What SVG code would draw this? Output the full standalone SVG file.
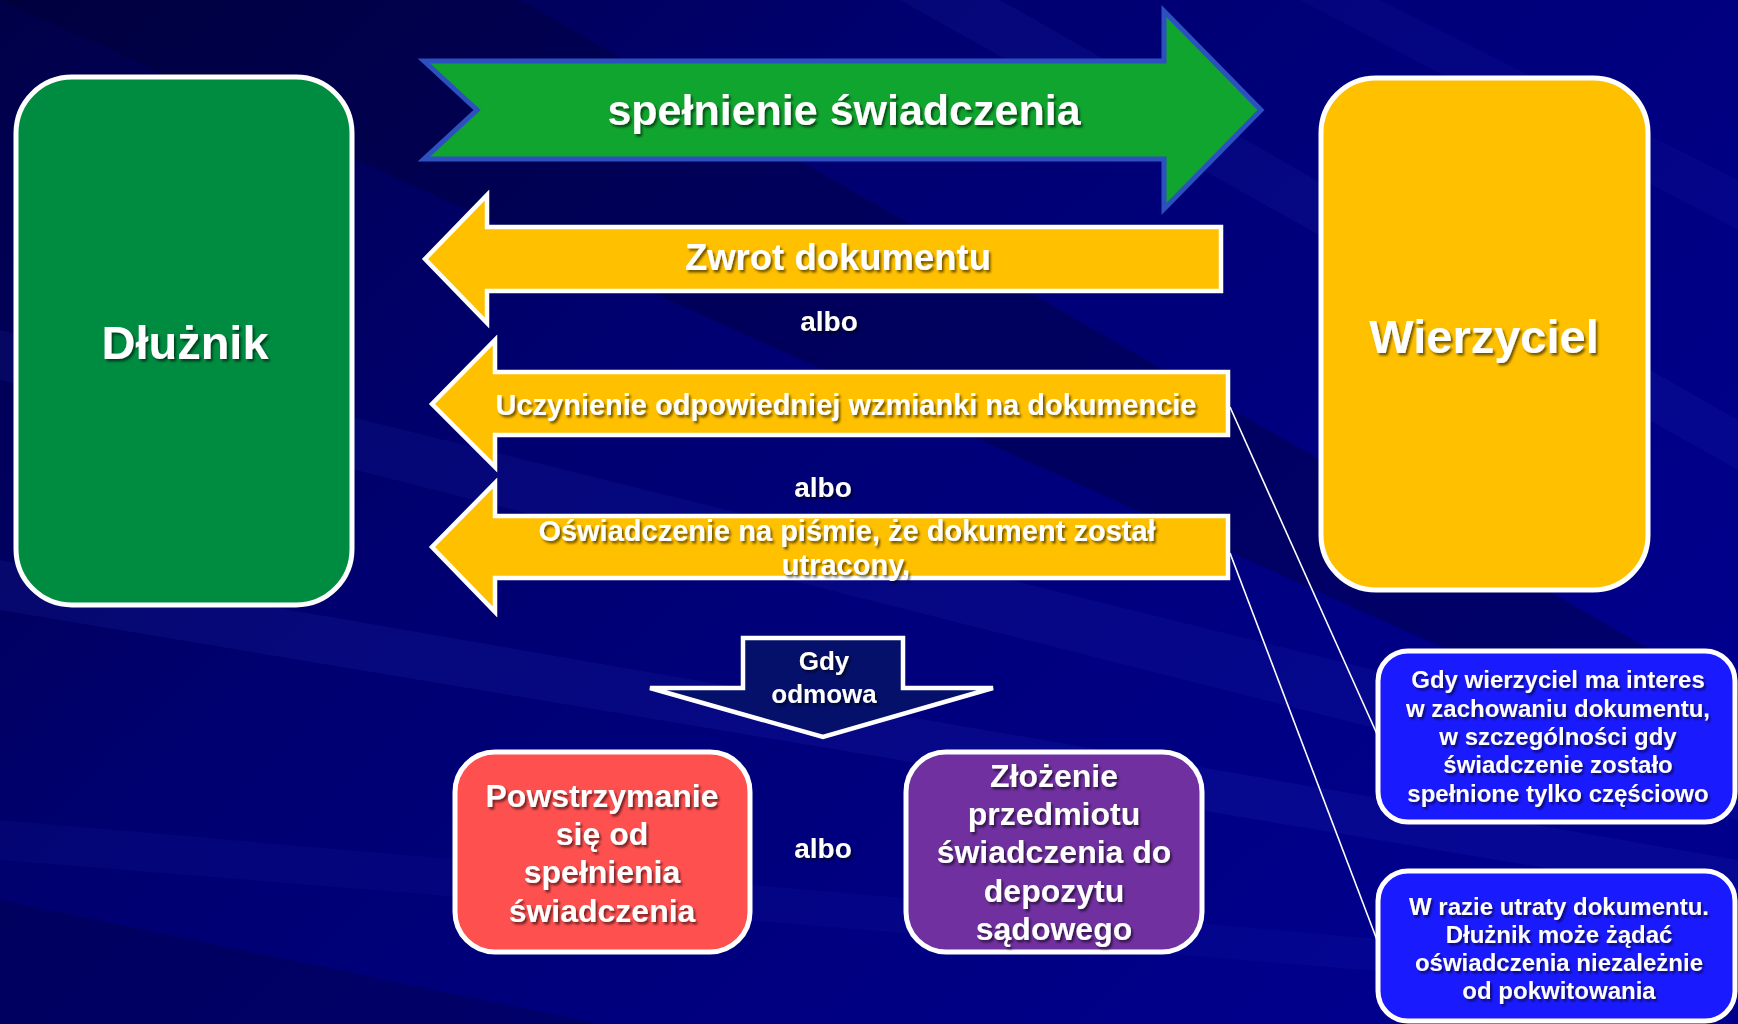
<svg xmlns="http://www.w3.org/2000/svg" width="1738" height="1024" viewBox="0 0 1738 1024">
<defs>
<linearGradient id="bg" x1="0" y1="0" x2="1" y2="0.6">
<stop offset="0" stop-color="#000048"/>
<stop offset="0.4" stop-color="#000070"/>
<stop offset="1" stop-color="#00008C"/>
</linearGradient>
<filter id="sh" x="-10%" y="-30%" width="120%" height="160%">
<feDropShadow dx="2" dy="2.5" stdDeviation="1.2" flood-color="#000000" flood-opacity="0.55"/>
</filter>
<style>
.t{font-family:"Liberation Sans",Arial,sans-serif;font-weight:bold;fill:#FFFFFF;text-anchor:middle;filter:url(#sh)}
.big{font-size:47px}
.box{stroke:#FFFFFF;stroke-width:5}
.yarrow{fill:#FFC000;stroke:#FFFFFF;stroke-width:4.5;stroke-linejoin:miter}
.note{fill:#1A1AFF;stroke:#FFFFFF;stroke-width:5}
.conn{stroke:#FFFFFF;stroke-width:1.6;fill:none}
.lite{fill:#3040D0}
.dark{fill:#000030}
</style>
</defs>
<rect x="0" y="0" width="1738" height="1024" fill="url(#bg)"/>
<g id="background-stripes">
<polygon class="dark" opacity="0.35" points="0,0 520,0 1738,700 1738,780"/>
<polygon class="lite" opacity="0.10" points="0,330 0,380 1738,820 1738,760"/>
<polygon class="lite" opacity="0.12" points="0,560 0,610 1738,900 1738,860"/>
<polygon class="lite" opacity="0.08" points="0,820 0,860 1738,1000 1738,970"/>
<polygon class="lite" opacity="0.10" points="900,0 1000,0 1738,420 1738,470"/>
<polygon class="lite" opacity="0.08" points="1300,0 1380,0 1738,180 1738,230"/>
<polygon class="dark" opacity="0.25" points="0,900 0,1024 600,1024"/>
</g>

<g id="connectors">
<line class="conn" x1="1230" y1="407" x2="1377" y2="734"/>
<line class="conn" x1="1230" y1="553" x2="1377" y2="940"/>
</g>

<g id="dluznik">
<rect class="box" x="16" y="77" width="336" height="528" rx="56" fill="#008C40"/>
<text class="t big" x="185" y="359">Dłużnik</text>
</g>

<g id="wierzyciel">
<rect class="box" x="1321" y="78" width="327" height="512" rx="55" fill="#FFC000"/>
<text class="t big" x="1484" y="353">Wierzyciel</text>
</g>

<g id="spelnienie">
<polygon points="424,61 1164,61 1164,11 1261,110 1164,209 1164,159 424,159 477,110" fill="#10A52E" stroke="#2C50C0" stroke-width="5"/>
<text class="t" x="844" y="125" font-size="43">spełnienie świadczenia</text>
</g>

<g id="zwrot">
<polygon class="yarrow" points="1221,227 487,227 487,195 425,259 487,323 487,291 1221,291"/>
<text class="t" x="838" y="270" font-size="36.5">Zwrot dokumentu</text>
</g>

<text class="t" x="829" y="331" font-size="28">albo</text>

<g id="wzmianka">
<polygon class="yarrow" points="1228,372 495,372 495,340 432,404 495,467 495,435 1228,435"/>
<text class="t" x="846" y="415" font-size="29">Uczynienie odpowiedniej wzmianki na dokumencie</text>
</g>

<text class="t" x="823" y="497" font-size="28">albo</text>

<g id="oswiadczenie">
<polygon class="yarrow" points="1228,516 495,516 495,483 432,547 495,612 495,578 1228,578"/>
<text class="t" x="847" y="541" font-size="29">Oświadczenie na piśmie, że dokument został</text>
<text class="t" x="846" y="575" font-size="29">utracony,</text>
</g>

<g id="gdy-odmowa">
<polygon points="743,638 903,638 903,688 993,688 823,737 650,688 743,688" fill="#04106A" stroke="#FFFFFF" stroke-width="4.5"/>
<text class="t" x="824" y="670" font-size="26">Gdy</text>
<text class="t" x="824" y="703" font-size="26">odmowa</text>
</g>

<g id="powstrzymanie">
<rect class="box" x="455" y="752" width="295" height="200" rx="40" fill="#FF5050"/>
<text class="t" x="602" y="807" font-size="32">Powstrzymanie</text>
<text class="t" x="602" y="845" font-size="32">się od</text>
<text class="t" x="602" y="883" font-size="32">spełnienia</text>
<text class="t" x="602" y="922" font-size="32">świadczenia</text>
</g>

<text class="t" x="823" y="858" font-size="28">albo</text>

<g id="zlozenie">
<rect class="box" x="906" y="752" width="296" height="200" rx="40" fill="#7030A0"/>
<text class="t" x="1054" y="787" font-size="32">Złożenie</text>
<text class="t" x="1054" y="825" font-size="32">przedmiotu</text>
<text class="t" x="1054" y="863" font-size="32">świadczenia do</text>
<text class="t" x="1054" y="902" font-size="32">depozytu</text>
<text class="t" x="1054" y="940" font-size="32">sądowego</text>
</g>

<g id="interes">
<rect class="note" x="1378" y="651" width="357" height="171" rx="30"/>
<text class="t" x="1558" y="688" font-size="24">Gdy wierzyciel ma interes</text>
<text class="t" x="1558" y="716.5" font-size="24">w zachowaniu dokumentu,</text>
<text class="t" x="1558" y="745" font-size="24">w szczególności gdy</text>
<text class="t" x="1558" y="773" font-size="24">świadczenie zostało</text>
<text class="t" x="1558" y="801.5" font-size="24">spełnione tylko częściowo</text>
</g>

<g id="utrata">
<rect class="note" x="1378" y="871" width="357" height="150" rx="30"/>
<text class="t" x="1559" y="915" font-size="24">W razie utraty dokumentu.</text>
<text class="t" x="1559" y="943" font-size="24">Dłużnik może żądać</text>
<text class="t" x="1559" y="971" font-size="24">oświadczenia niezależnie</text>
<text class="t" x="1559" y="999" font-size="24">od pokwitowania</text>
</g>
</svg>
